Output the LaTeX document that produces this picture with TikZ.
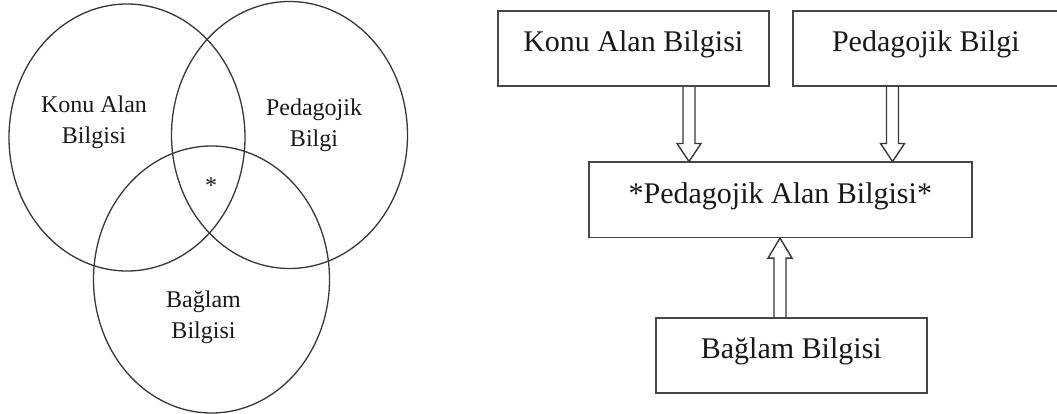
\documentclass[tikz,border=0pt]{standalone}
\usepackage{fontspec}
\setmainfont{Liberation Serif}
\usetikzlibrary{shapes.geometric,calc}
\tikzset{
  venn/.style={ellipse, draw=black!78, line width=1.3pt, minimum width=236pt, minimum height=267pt, inner sep=0pt},
  vlabel/.style={align=center, inner sep=0pt, text=black!90, font=\fontsize{24}{31}\selectfont},
  box/.style={draw=black!72, line width=1.6pt, anchor=north west, inner sep=0pt, text=black!90,
    minimum height=75pt, text height=41pt, text depth=34pt, font=\fontsize{30}{36}\selectfont},
  arrowline/.style={draw=black!78, line width=1.4pt, line join=miter}
}
\newcommand\blockarrow[3]{%
  \draw[arrowline] ($(#1)+(-6,0)$) -- ($(#2)+(-6,#3)$) -- ($(#2)+(-12,#3)$) -- (#2)
    -- ($(#2)+(12,#3)$) -- ($(#2)+(6,#3)$) -- ($(#1)+(6,0)$);}
\begin{document}
\begin{tikzpicture}[x=1pt,y=-1pt]
\useasboundingbox (0,0) rectangle (1057,414);
\fill[white] (0,0) rectangle (1057,414);
\clip (0,0) rectangle (1057,414);
% Venn diagram
\node[venn] (c1) at (127,137.5) {};
\node[venn] (c2) at (289.5,135) {};
\node[venn] (c3) at (211.5,279.5) {};
\node[vlabel] (t1) at (94,122) {Konu Alan\\Bilgisi};
\node[vlabel] (t2) at (314,125) {Pedagojik\\Bilgi};
\node[vlabel] (t3) at (203.5,317) {Bağlam\\Bilgisi};
\node[vlabel] (ts) at (211,186) {*};
% Boxes
\node[box, minimum width=271pt] (k) at (497,10) {Konu Alan Bilgisi};
\node[box, minimum width=266pt] (pb) at (792,10) {Pedagojik Bilgi};
\node[box, minimum width=383pt] (pak) at (588,161.5) {*Pedagojik Alan Bilgisi*};
\node[box, minimum width=271pt] (bb) at (655,317) {Bağlam Bilgisi};
% Arrows
\coordinate (a1s) at ($(k.south west)+(192,0)$);
\coordinate (a1t) at (a1s |- pak.north);
\coordinate (a2s) at ($(pb.south west)+(100.5,0)$);
\coordinate (a2t) at (a2s |- pak.north);
\coordinate (a3s) at ($(bb.north west)+(125,0)$);
\coordinate (a3t) at (a3s |- pak.south);
\blockarrow{a1s}{a1t}{-18}
\blockarrow{a2s}{a2t}{-18}
\blockarrow{a3s}{a3t}{20}
\end{tikzpicture}
\end{document}
